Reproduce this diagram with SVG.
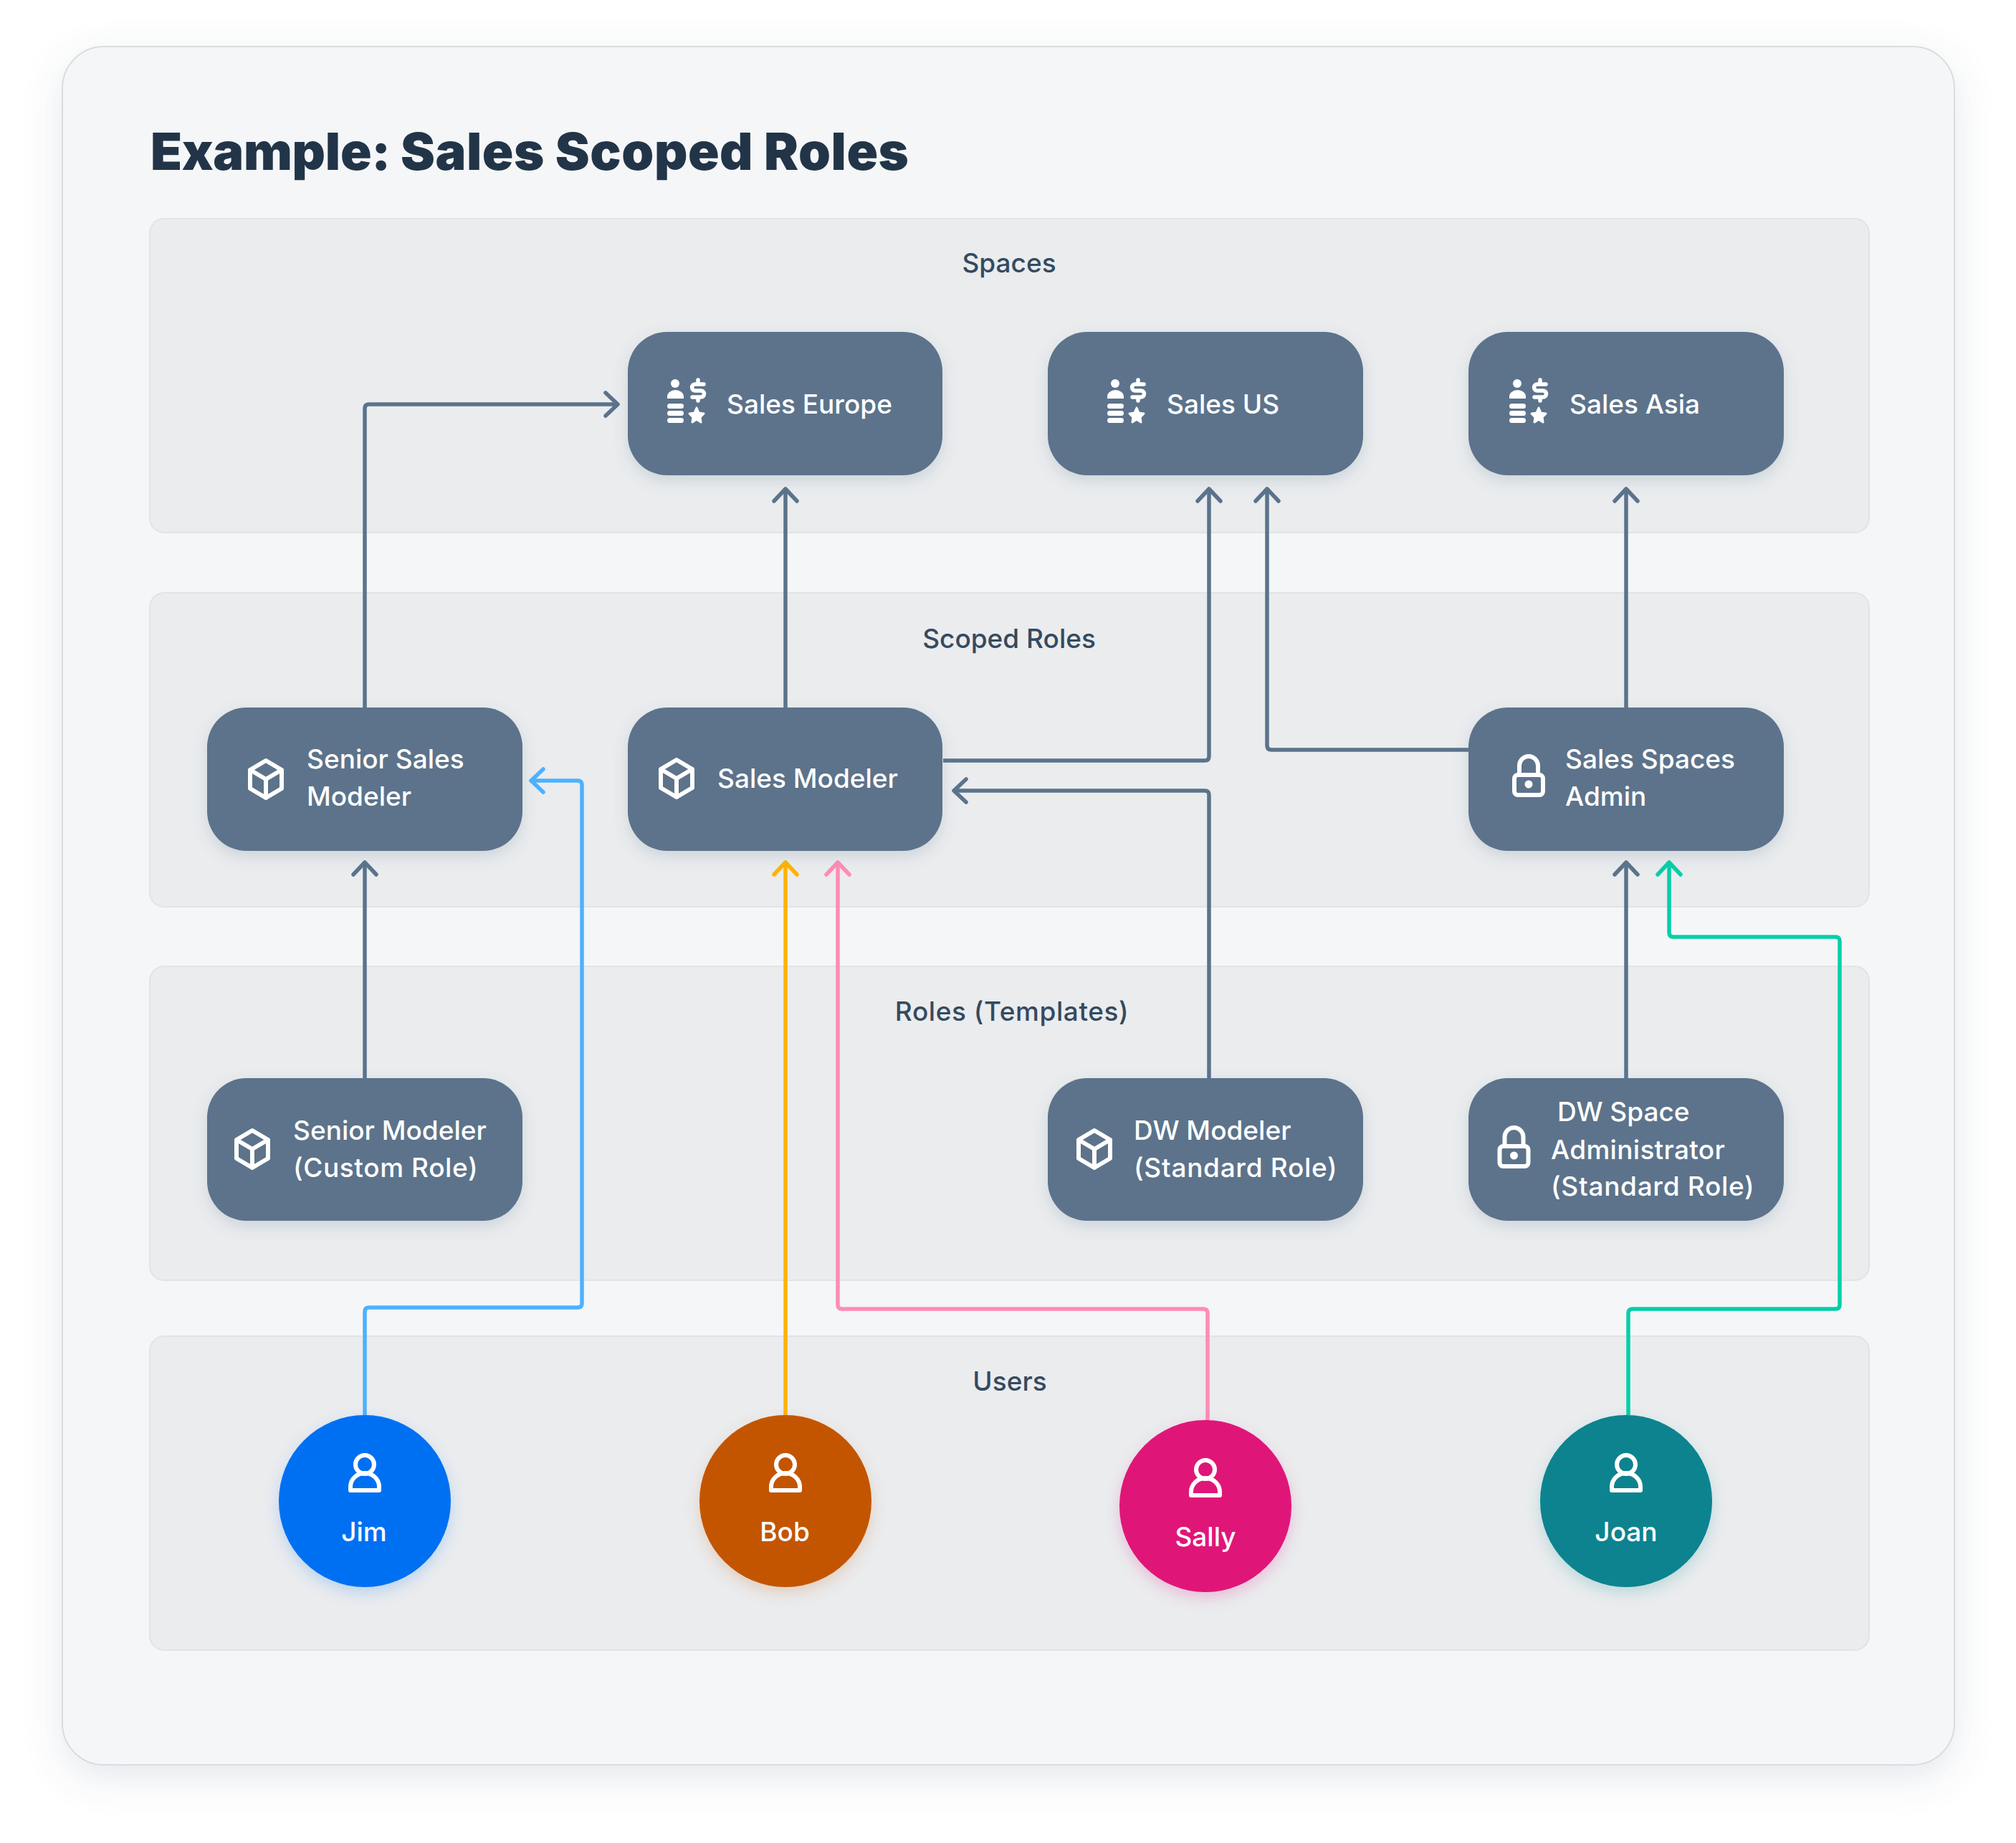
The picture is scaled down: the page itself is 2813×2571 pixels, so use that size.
<svg xmlns="http://www.w3.org/2000/svg" width="2813" height="2571" viewBox="0 0 2813 2571">
<defs>
<style>
text{font-family:"Inter","Liberation Sans",sans-serif}
.title{font-size:72px;font-weight:900;fill:#223548;letter-spacing:.55px}
.plabel{font-size:37px;font-weight:550;fill:#354a5f;text-anchor:middle}
.ntext{font-size:37px;font-weight:550;fill:#fff}
.utext{font-size:37px;font-weight:550;fill:#fff;text-anchor:middle}
.panel{fill:#eaecee;stroke:#e1e4e7;stroke-width:2}
.node{fill:#5b738b;filter:url(#ns)}
.c{fill:none;stroke-width:5.500;stroke-linejoin:round}
.i{fill:none;stroke:#fff;stroke-width:6;stroke-linejoin:round;stroke-linecap:round}
.f{fill:#fff}
.g{stroke:#5b738b}.bl{stroke:#4db1ff}.or{stroke:#ffb300}.pk{stroke:#ff8cb6}.te{stroke:#04cfa9}
.h{fill:none;stroke-width:5.500;stroke-linecap:round;stroke-linejoin:round}
</style>
<filter id="os" x="-10%" y="-10%" width="120%" height="120%"><feDropShadow dx="0" dy="16" stdDeviation="26" flood-color="#5b738b" flood-opacity="0.16"/></filter>
<filter id="ns" x="-20%" y="-30%" width="140%" height="160%"><feDropShadow dx="0" dy="8" stdDeviation="10" flood-color="#5b738b" flood-opacity="0.2"/></filter>
<filter id="us" x="-30%" y="-30%" width="160%" height="160%"><feDropShadow dx="0" dy="8" stdDeviation="10" flood-color="#0070f2" flood-opacity="0.2"/></filter>
<filter id="uo" x="-30%" y="-30%" width="160%" height="160%"><feDropShadow dx="0" dy="8" stdDeviation="10" flood-color="#c35500" flood-opacity="0.2"/></filter>
<filter id="up" x="-30%" y="-30%" width="160%" height="160%"><feDropShadow dx="0" dy="8" stdDeviation="10" flood-color="#df1278" flood-opacity="0.2"/></filter>
<filter id="ut" x="-30%" y="-30%" width="160%" height="160%"><feDropShadow dx="0" dy="8" stdDeviation="10" flood-color="#07838f" flood-opacity="0.2"/></filter>
<marker id="mg" markerUnits="userSpaceOnUse" markerWidth="44" markerHeight="44" refX="0" refY="0" viewBox="-22 -22 44 44" orient="auto" overflow="visible"><path class="h g" d="M-17 -16L0 0L-17 16"/></marker>
<marker id="mb" markerUnits="userSpaceOnUse" markerWidth="44" markerHeight="44" refX="0" refY="0" viewBox="-22 -22 44 44" orient="auto" overflow="visible"><path class="h bl" d="M-17 -16L0 0L-17 16"/></marker>
<marker id="mo" markerUnits="userSpaceOnUse" markerWidth="44" markerHeight="44" refX="0" refY="0" viewBox="-22 -22 44 44" orient="auto" overflow="visible"><path class="h or" d="M-17 -16L0 0L-17 16"/></marker>
<marker id="mp" markerUnits="userSpaceOnUse" markerWidth="44" markerHeight="44" refX="0" refY="0" viewBox="-22 -22 44 44" orient="auto" overflow="visible"><path class="h pk" d="M-17 -16L0 0L-17 16"/></marker>
<marker id="mt" markerUnits="userSpaceOnUse" markerWidth="44" markerHeight="44" refX="0" refY="0" viewBox="-22 -22 44 44" orient="auto" overflow="visible"><path class="h te" d="M-17 -16L0 0L-17 16"/></marker>
<g id="cube"><path class="i" d="M0 -26L22 -13V13L0 26L-22 13V-13ZM-22 -13L0 0L22 -13M0 0V26"/></g>
<g id="lock"><rect class="i" x="-20" y="-13" width="40" height="28" rx="5"/><path class="i" d="M-13 -13V-26a13 13 0 0 1 26 0V-13"/><circle class="f" cx="0" cy="0" r="5.500"/></g>
<g id="person"><circle class="i" cx="0" cy="-13" r="13"/><path class="i" d="M-20 23V18A20 19 0 0 1 20 18V23Z"/></g>
<g id="space"><circle class="f" cx="942" cy="535" r="6"/><path class="f" d="M931 556V553A11.500 9 0 0 1 954 553V556Z"/><rect class="f" x="931" y="563" width="23" height="7" rx="3.500"/><rect class="f" x="931" y="573" width="23" height="7" rx="3.500"/><rect class="f" x="931" y="583" width="23" height="7" rx="3.500"/><path d="M982 536H970A4.500 4.500 0 0 0 970 545H978A4.500 4.500 0 0 1 978 554H966M974 530V535M974 554V559" fill="none" stroke="#fff" stroke-width="5.500" stroke-linecap="round" stroke-linejoin="round"/><path class="f" stroke="#fff" stroke-width="3" stroke-linejoin="round" d="M972 569L975 576L982 577L977 582L978 589L972 585L966 589L967 582L962 577L969 576Z"/></g>
</defs>
<rect width="2813" height="2571" fill="#fff"/>
<g id="background"><rect x="87" y="65" width="2640" height="2397" rx="58" fill="#f5f6f7" stroke="#d9dde0" stroke-width="2" filter="url(#os)"/></g>
<text class="title" x="210" y="237"><tspan style="letter-spacing:-.25px">Example: </tspan>Sales Scoped Roles</text>
<g id="panels">
<g id="panel-spaces"><rect class="panel" x="209" y="305" width="2399" height="438" rx="20"/><text class="plabel" x="1408" y="380">Spaces</text></g>
<g id="panel-scoped"><rect class="panel" x="209" y="827" width="2399" height="438" rx="20"/><text class="plabel" x="1408" y="904">Scoped Roles</text></g>
<g id="panel-roles"><rect class="panel" x="209" y="1348" width="2399" height="438" rx="20"/><text class="plabel" x="1412" y="1424" style="letter-spacing:.55px">Roles (Templates)</text></g>
<g id="panel-users"><rect class="panel" x="209" y="1864" width="2399" height="438" rx="20"/><text class="plabel" x="1409" y="1940">Users</text></g>
</g>
<g id="connectors">
<path class="c g" marker-end="url(#mg)" d="M509 987V570Q509 564 515 564H862"/>
<path class="c g" marker-end="url(#mg)" d="M1096 987V682"/>
<path class="c g" marker-end="url(#mg)" d="M1316 1061H1681Q1687 1061 1687 1055V682"/>
<path class="c g" marker-end="url(#mg)" d="M2049 1046H1774Q1768 1046 1768 1040V682"/>
<path class="c g" marker-end="url(#mg)" d="M2269 987V682"/>
<path class="c g" marker-end="url(#mg)" d="M509 1504V1203"/>
<path class="c g" marker-end="url(#mg)" d="M1687 1504V1109Q1687 1103 1681 1103H1331"/>
<path class="c g" marker-end="url(#mg)" d="M2269 1504V1203"/>
<path class="c bl" marker-end="url(#mb)" d="M509 1974V1830Q509 1824 515 1824H806Q812 1824 812 1818V1095Q812 1089 806 1089H741"/>
<path class="c or" marker-end="url(#mo)" d="M1096 1974V1203"/>
<path class="c pk" marker-end="url(#mp)" d="M1685 1981V1832Q1685 1826 1679 1826H1175Q1169 1826 1169 1820V1203"/>
<path class="c te" marker-end="url(#mt)" d="M2272 1974V1832Q2272 1826 2278 1826H2561Q2567 1826 2567 1820V1313Q2567 1307 2561 1307H2335Q2329 1307 2329 1301V1203"/>
</g>
<g id="node-sales-europe"><rect class="node" x="876" y="463" width="439" height="200" rx="55"/><use href="#space"/><text class="ntext" x="1014" y="577">Sales Europe</text></g>
<g id="node-sales-us"><rect class="node" x="1462" y="463" width="440" height="200" rx="55"/><use href="#space" x="614"/><text class="ntext" x="1628" y="577">Sales US</text></g>
<g id="node-sales-asia"><rect class="node" x="2049" y="463" width="440" height="200" rx="55"/><use href="#space" x="1175"/><text class="ntext" x="2190" y="577">Sales Asia</text></g>
<g id="node-senior-sales"><rect class="node" x="289" y="987" width="440" height="200" rx="55"/><use href="#cube" x="371" y="1087"/><text class="ntext" x="428" y="1072">Senior Sales</text><text class="ntext" x="428" y="1124">Modeler</text></g>
<g id="node-sales-modeler"><rect class="node" x="876" y="987" width="439" height="200" rx="55"/><use href="#cube" x="944" y="1086"/><text class="ntext" x="1001" y="1099">Sales Modeler</text></g>
<g id="node-sales-admin"><rect class="node" x="2049" y="987" width="440" height="200" rx="55"/><use href="#lock" x="2133" y="1094"/><text class="ntext" x="2184" y="1072">Sales Spaces</text><text class="ntext" x="2184" y="1124">Admin</text></g>
<g id="node-senior-modeler"><rect class="node" x="289" y="1504" width="440" height="199" rx="55"/><use href="#cube" x="352" y="1603"/><text class="ntext" x="409" y="1590">Senior Modeler</text><text class="ntext" x="409" y="1642" style="letter-spacing:.6px">(Custom Role)</text></g>
<g id="node-dw-modeler"><rect class="node" x="1462" y="1504" width="440" height="199" rx="55"/><use href="#cube" x="1527" y="1603"/><text class="ntext" x="1582" y="1590">DW Modeler</text><text class="ntext" x="1582" y="1642" style="letter-spacing:.7px">(Standard Role)</text></g>
<g id="node-dw-admin"><rect class="node" x="2049" y="1504" width="440" height="199" rx="55"/><use href="#lock" x="2112.500" y="1612"/><text class="ntext" x="2173" y="1564">DW Space</text><text class="ntext" x="2164" y="1617" style="letter-spacing:.3px">Administrator</text><text class="ntext" x="2164" y="1668" style="letter-spacing:.7px">(Standard Role)</text></g>
<g id="user-jim"><circle cx="509" cy="2094" r="120" fill="#0070f2" filter="url(#us)"/><use href="#person" x="509" y="2056"/><text class="utext" x="508" y="2150">Jim</text></g>
<g id="user-bob"><circle cx="1096" cy="2094" r="120" fill="#c35500" filter="url(#uo)"/><use href="#person" x="1096" y="2056"/><text class="utext" x="1095" y="2150">Bob</text></g>
<g id="user-sally"><circle cx="1682" cy="2101" r="120" fill="#df1278" filter="url(#up)"/><use href="#person" x="1682" y="2063"/><text class="utext" x="1682" y="2157">Sally</text></g>
<g id="user-joan"><circle cx="2269" cy="2094" r="120" fill="#07838f" filter="url(#ut)"/><use href="#person" x="2269" y="2056"/><text class="utext" x="2269" y="2150">Joan</text></g>
</svg>
